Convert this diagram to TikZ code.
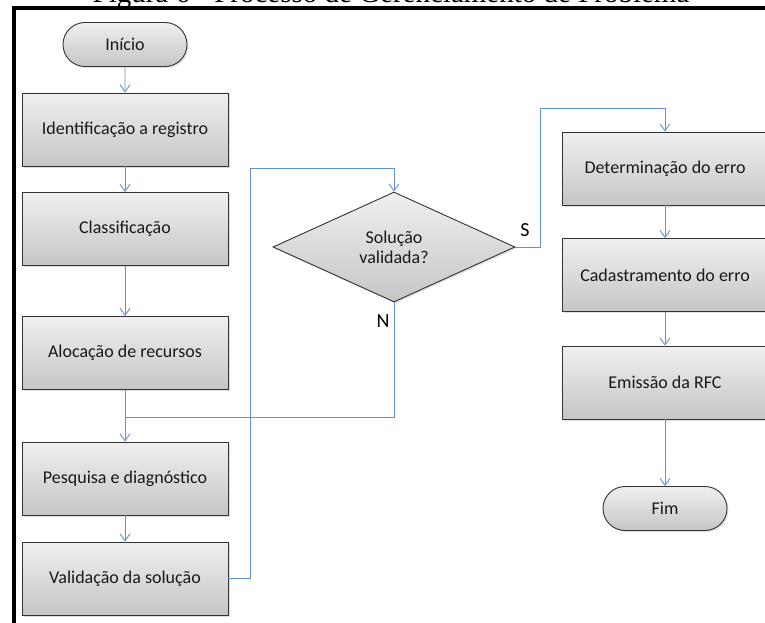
\documentclass[tikz,border=0pt]{standalone}
\usepackage{fontspec}
\setmainfont{Carlito}
\newfontfamily\titlefont{Liberation Serif}
\usetikzlibrary{arrows.meta,shadows,shapes.geometric,shapes.misc}
\definecolor{flow}{RGB}{100,145,205}
\definecolor{txt}{RGB}{25,25,25}
\begin{document}
\begin{tikzpicture}[x=1pt,y=-1pt,
  shade/.style={top color=gray!12, bottom color=gray!45, draw=black!80, line width=0.9pt,
    drop shadow={shadow xshift=1.5pt, shadow yshift=-1.5pt, opacity=0.25}},
  box/.style={shade, rectangle, minimum width=206pt, minimum height=73pt, inner sep=0pt,
    text=txt, font=\fontsize{18}{21}\selectfont},
  term/.style={shade, rounded rectangle, minimum width=124pt, minimum height=44pt, inner sep=0pt,
    text=txt, font=\fontsize{18}{21}\selectfont},
  dec/.style={shade, diamond, minimum width=242pt, minimum height=110pt, inner sep=0pt,
    text=txt, align=center, font=\fontsize{18}{20}\selectfont},
  conn/.style={draw=flow, line width=0.9pt},
  arr/.style={conn, -{Straight Barb[length=7pt,width=10pt,line width=0.9pt]}},
  lbl/.style={font=\fontsize{20}{22}\selectfont, text=black}
]
\useasboundingbox (0,0) rectangle (765,623);
% title (cut off at the top, as in the reference)
\node[anchor=base, font=\titlefont\fontsize{29}{31}\selectfont] (title) at (391,3) {Figura 6 - Processo de Gerenciamento de Problema};
% frame
\draw[line width=3.5pt] (14,625) -- (14,8) -- (767,8);

% left column
\node[term] (ini) at (125,44.5) {Início};
\node[box] (ident) at (125,129.5) {Identificação a registro};
\node[box] (clas) at (125,229) {Classificação};
\node[box] (aloc) at (125,353) {Alocação de recursos};
\node[box] (pesq) at (125,478.5) {Pesquisa e diagnóstico};
\node[box] (valid) at (125,578.5) {Validação da solução};

% decision
\node[dec] (dec) at (394,247) {Solução\\validada?};

% right column
\node[box] (det) at (665,168.5) {Determinação do erro};
\node[box] (cad) at (665,275) {Cadastramento do erro};
\node[box] (emi) at (665,382.5) {Emissão da RFC};
\node[term] (fim) at (665,508.5) {Fim};

% connectors
\draw[arr] (ini) -- (ident);
\draw[arr] (ident) -- (clas);
\draw[arr] (clas) -- (aloc);
\coordinate (j) at (125,417);
\draw[arr] (aloc) -- (pesq);
\draw[conn] (dec.south) |- (j);
\draw[arr] (pesq) -- (valid);
\coordinate (l1) at (250,168);
\draw[arr] (valid.east) -| (l1) -| (dec.north);
\coordinate (s1) at (540,108);
\draw[arr] (dec.east) -| (s1) -| (det.north);
\draw[arr] (det) -- (cad);
\draw[arr] (cad) -- (emi);
\draw[arr] (emi) -- (fim);

% labels
\node[lbl] (S) at (525,230) {S};
\node[lbl] (N) at (383,321) {N};
\end{tikzpicture}
\end{document}
